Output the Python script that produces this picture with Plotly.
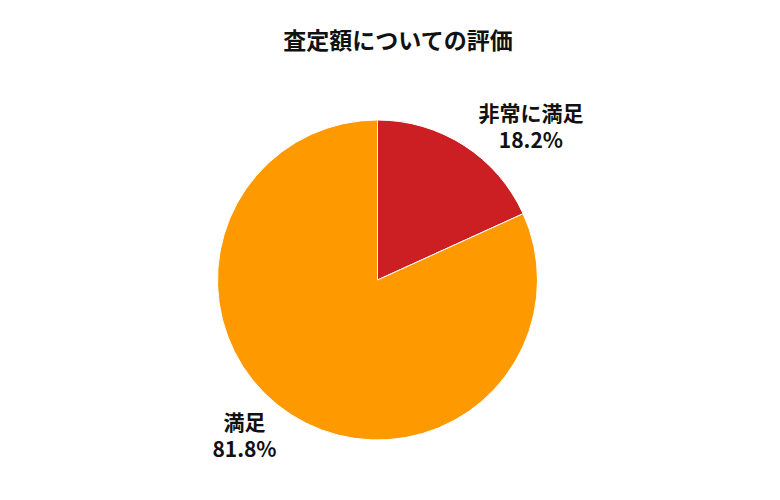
import plotly.graph_objects as go

labels = ["非常に満足", "満足"]
values = [18.2, 81.8]
colors = ["#CC1F24", "#FF9900"]

fig = go.Figure(go.Pie(
    labels=labels, values=values, sort=False, direction="clockwise", rotation=0,
    marker=dict(colors=colors, line=dict(color="white", width=1)),
    textposition="outside", texttemplate="<b>%{label}<br>%{percent:.1%}</b>",
    textfont=dict(size=21, color="#111", family="Noto Sans CJK JP"),
    showlegend=False, hoverinfo="label+percent",
))
fig.update_layout(
    width=780, height=500, paper_bgcolor="white",
    margin=dict(l=48, r=0, t=112, b=68),
    title=dict(text="<b>査定額についての評価</b>", x=0.5, y=0.95, xanchor="center",
               font=dict(size=23, color="#111", family="Noto Sans CJK JP")),
    font=dict(family="Noto Sans CJK JP"),
)
fig.write_html("out.html")
